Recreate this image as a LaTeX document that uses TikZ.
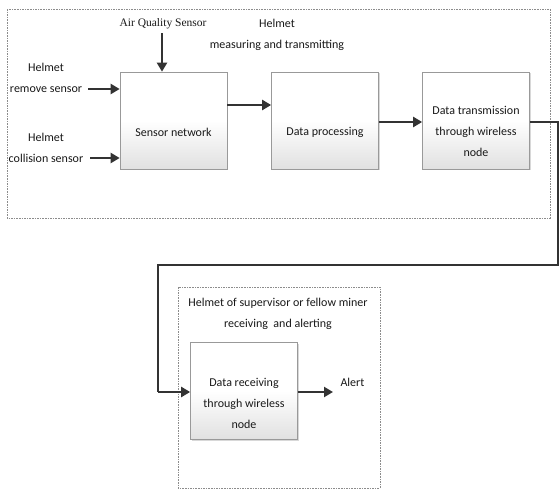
\documentclass[tikz,border=0pt]{standalone}
\usepackage{fontspec}
\setmainfont{Carlito}
\newfontfamily\serifone{Liberation Serif}
\usetikzlibrary{arrows.meta,shadows}
\begin{document}
\begin{tikzpicture}[x=1pt,y=-1pt,
  blk/.style={draw=black!40, line width=0.7pt, minimum width=107pt, minimum height=97pt,
    top color=white, bottom color=black!12, middle color=white,
    drop shadow={opacity=0.3, shadow xshift=1.2pt, shadow yshift=-1.2pt}},
  txt/.style={font=\fontsize{12}{21}\selectfont, align=center, text=black!90},
  grp/.style={draw=black!45, line width=0.8pt, dash pattern=on 1.6pt off 1pt},
  arr/.style={draw=black!80, line width=2.4pt, -{Triangle[length=9pt,width=10pt]}},
  ln/.style={draw=black!80, line width=2.4pt}]
\useasboundingbox (0,0) rectangle (560,493);
\fill[white] (0,0) rectangle (560,493);
% group boxes
\draw[grp] (7,9) rectangle (550,218);
\draw[grp] (178,287) rectangle (380,488);
% blocks
\node[blk] (sn) at (173.5,120.5) {};
\node[blk] (dp) at (325,120.5) {};
\node[blk] (dt) at (476,120.5) {};
\node[blk] (dr) at (244,391) {};
\node[txt] (snt) at (173.5,132) {Sensor network};
\node[txt] (dpt) at (325,132) {Data processing};
\node[txt] (dtt) at (476,131.5) {Data transmission\\through wireless\\node};
\node[txt] (drt) at (244,403) {Data receiving\\through wireless\\node};
% labels
\node[font=\serifone\fontsize{11.5}{12}\selectfont, text=black!90] (aq) at (163,24) {Air Quality Sensor};
\node[txt] (hm) at (277,34.5) {Helmet\\measuring and transmitting};
\node[txt] (hr) at (46,78) {Helmet\\remove sensor};
\node[txt] (hc) at (46,147.5) {Helmet\\collision sensor};
\node[txt] (hs) at (278,313.5) {Helmet of supervisor or fellow miner\\receiving~ and alerting};
\node[txt, anchor=west] (al) at (337,382) {Alert};
% coordinates
\coordinate (aqb) at (162,33);
\coordinate (hre) at (88,89);
\coordinate (hce) at (90,158);
\coordinate (r1) at (0,105);
\coordinate (r2) at (0,122);
\coordinate (c1) at (558,122);
\coordinate (c2) at (558,265);
\coordinate (c3) at (158,265);
\coordinate (c4) at (158,392);
\coordinate (ale) at (333,392);
% arrows
\draw[arr] (aqb) -- (aqb |- sn.north);
\draw[arr] (hre) -- (hre -| sn.west);
\draw[arr] (hce) -- (hce -| sn.west);
\draw[arr] (sn.east |- r1) -- (dp.west |- r1);
\draw[arr] (dp.east |- r2) -- (dt.west |- r2);
\draw[ln, line join=miter] (dt.east |- r2) -- (c1) -- (c2) -- (c3) -- (c4);
\draw[arr] (c4) -- (c4 -| dr.west);
\draw[arr] (dr.east |- ale) -- (ale);
\end{tikzpicture}
\end{document}
